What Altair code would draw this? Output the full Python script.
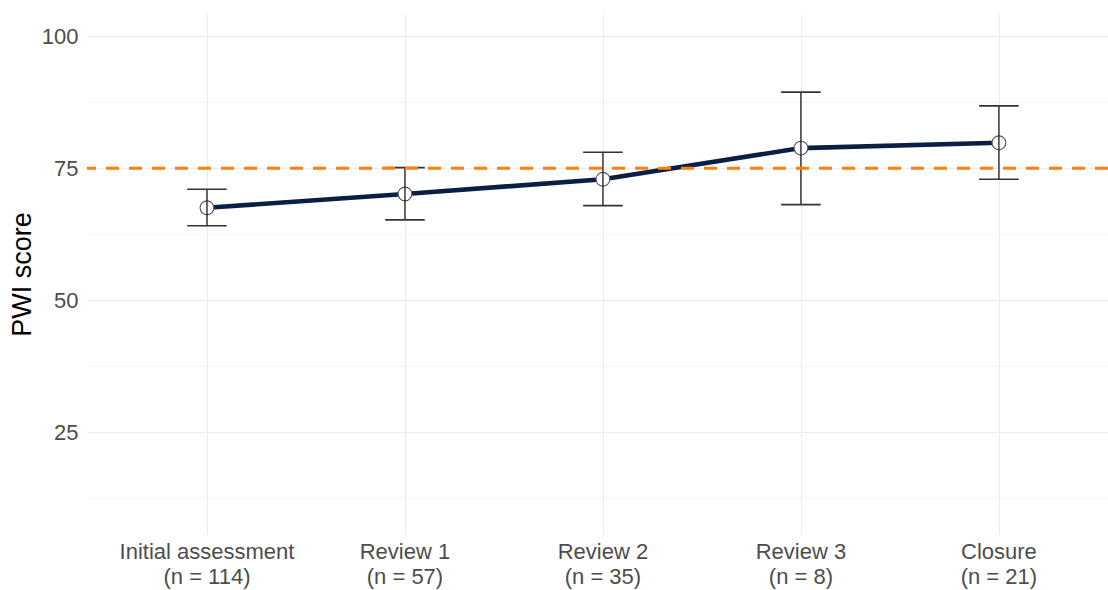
import altair as alt
import pandas as pd

# PWI scores by stage: mean with lower/upper interval
stages = ["Initial assessment", "Review 1", "Review 2", "Review 3", "Closure"]
counts = [114, 57, 35, 8, 21]
means = [67.5, 70.1, 72.9, 78.8, 79.8]
lower = [64.1, 65.2, 67.9, 68.1, 72.9]
upper = [71.0, 75.1, 78.0, 89.4, 86.8]
benchmark = [75]
minor_grid = [12.5, 37.5, 62.5, 87.5]

W, H = 1021, 520
CAP = 0.1  # half width of the error bar caps, in category units

df = pd.DataFrame({
    "idx": list(range(len(stages))),
    "stage": stages,
    "label": [f"{s}\n (n = {n})" for s, n in zip(stages, counts)],
    "mean": means,
    "lo": lower,
    "hi": upper,
})
df["cap_l"] = df["idx"] - CAP
df["cap_r"] = df["idx"] + CAP

xs = alt.Scale(domain=[-0.606, 4.551], nice=False, zero=False)
ys = alt.Scale(domain=[5.7, 104.2], nice=False, zero=False)

x_axis = alt.Axis(values=[0, 1, 2, 3, 4], labels=False, ticks=False, domain=False,
                  title=None, grid=True, gridColor="#ebebeb", gridWidth=1)
y_axis = alt.Axis(values=[25, 50, 75, 100], ticks=False, domain=False, grid=True,
                  gridColor="#ebebeb", gridWidth=1, title="PWI score",
                  titleFont="Liberation Sans", titleFontSize=27, titleFontWeight="normal",
                  titleColor="#000000", titlePadding=5,
                  labelFont="Liberation Sans", labelFontSize=22, labelColor="#4d4d4d",
                  labelPadding=9)

base = alt.Chart(df)

grid = base.mark_line(opacity=0).encode(
    x=alt.X("idx:Q", scale=xs, axis=x_axis),
    y=alt.Y("mean:Q", scale=ys, axis=y_axis),
)

minor = alt.Chart(pd.DataFrame({"v": minor_grid})).mark_rule(
    color="#f0f0f0", strokeWidth=0.8
).encode(y=alt.Y("v:Q", scale=ys))

line = base.mark_line(color="#0b1f45", strokeWidth=4.6).encode(
    x=alt.X("idx:Q", scale=xs), y=alt.Y("mean:Q", scale=ys)
)

points = base.mark_point(
    shape="circle", filled=True, fill="white", stroke="#555555", strokeWidth=1.1,
    size=190, opacity=1
).encode(x=alt.X("idx:Q", scale=xs), y=alt.Y("mean:Q", scale=ys))

whisker = base.mark_rule(color="#1a1a1a", strokeWidth=1.3).encode(
    x=alt.X("idx:Q", scale=xs), y=alt.Y("lo:Q", scale=ys), y2="hi:Q"
)
cap_top = base.mark_rule(color="#333333", strokeWidth=1.6).encode(
    x=alt.X("cap_l:Q", scale=xs), x2="cap_r:Q", y=alt.Y("hi:Q", scale=ys)
)
cap_bot = base.mark_rule(color="#333333", strokeWidth=1.6).encode(
    x=alt.X("cap_l:Q", scale=xs), x2="cap_r:Q", y=alt.Y("lo:Q", scale=ys)
)

ref = alt.Chart(pd.DataFrame({"v": benchmark})).mark_rule(
    color="#ff7f0e", strokeWidth=3, strokeDash=[13, 10]
).encode(y=alt.Y("v:Q", scale=ys))

xlabels = base.mark_text(
    baseline="top", align="center", lineBreak="\n", font="Liberation Sans",
    fontSize=22, color="#4d4d4d", lineHeight=25
).encode(
    x=alt.X("idx:Q", scale=xs), y=alt.value(H + 8), text="label:N"
)

chart = alt.layer(
    grid, minor, line, points, whisker, cap_top, cap_bot, ref, xlabels
).properties(
    width=W, height=H,
    background="white",
    autosize=alt.AutoSizeParams(type="none"),
    padding={"left": 87, "top": 14, "right": 0, "bottom": 56},
).configure_view(strokeWidth=0, stroke="transparent")

chart.save("out.html", embed_options={"renderer": "svg", "actions": False})
